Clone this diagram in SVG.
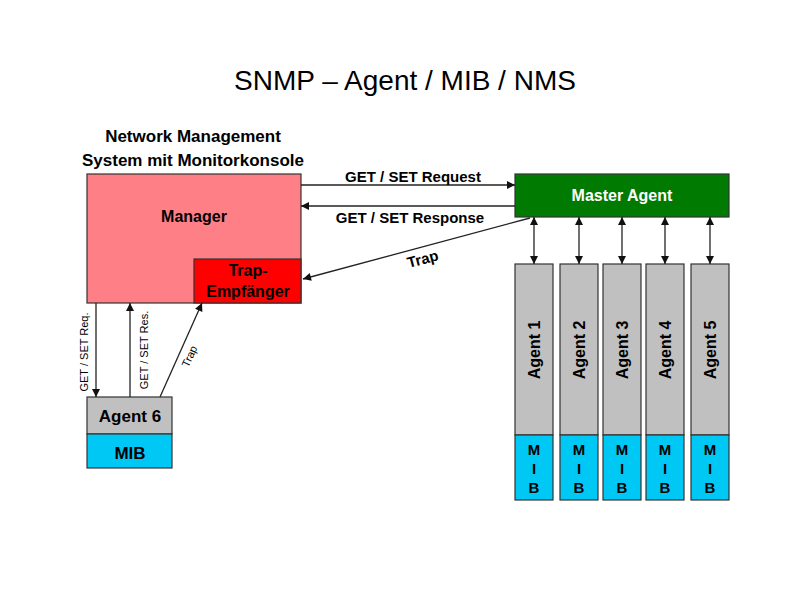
<svg xmlns="http://www.w3.org/2000/svg" width="800" height="600" viewBox="0 0 800 600">
<style>
text{font-family:"Liberation Sans",Arial,sans-serif;font-weight:bold;fill:#000}
.b{stroke:#333;stroke-width:1.2}
.l{stroke:#222;stroke-width:1.3;fill:none}
.s{font-weight:normal;font-size:11px}
.ag{font-size:16px}
.m{font-size:15px}
</style>
<defs>
<marker id="a" viewBox="0 0 10 10" refX="10" refY="5" markerWidth="10" markerHeight="8" markerUnits="userSpaceOnUse" orient="auto-start-reverse"><path d="M0,0L10,5L0,10z" fill="#111"/></marker>
</defs>
<rect width="800" height="600" fill="#fff"/>
<text x="405" y="90" text-anchor="middle" style="font-weight:normal;font-size:28px">SNMP – Agent / MIB / NMS</text>
<text x="193" y="142" text-anchor="middle" font-size="17">Network Management</text>
<text x="193" y="166" text-anchor="middle" font-size="17">System mit Monitorkonsole</text>
<g id="manager"><rect x="87" y="174" width="214" height="129" fill="#ff7f86" class="b"/><text x="194" y="222" text-anchor="middle" font-size="16">Manager</text></g>
<g id="trap-empfaenger"><rect x="194" y="259" width="107" height="44" fill="#f00" class="b"/><text x="248" y="276" text-anchor="middle" font-size="16">Trap-</text><text x="248" y="297" text-anchor="middle" font-size="16">Empfänger</text></g>
<g id="master"><rect x="515" y="174" width="214" height="43" fill="#007a00" class="b"/><text x="622" y="201" text-anchor="middle" font-size="16" style="fill:#fff">Master Agent</text></g>
<g id="agent1"><rect x="515" y="264" width="38" height="171" fill="#c0c0c0" class="b"/><rect x="515" y="435" width="38" height="65" fill="#00c8f5" class="b"/><text transform="translate(540,350) rotate(-90)" text-anchor="middle" class="ag">Agent 1</text><text x="534" y="455" text-anchor="middle" class="m">M</text><text x="534" y="474" text-anchor="middle" class="m">I</text><text x="534" y="493" text-anchor="middle" class="m">B</text></g>
<g id="agent2"><rect x="560" y="264" width="38" height="171" fill="#c0c0c0" class="b"/><rect x="560" y="435" width="38" height="65" fill="#00c8f5" class="b"/><text transform="translate(585,350) rotate(-90)" text-anchor="middle" class="ag">Agent 2</text><text x="579" y="455" text-anchor="middle" class="m">M</text><text x="579" y="474" text-anchor="middle" class="m">I</text><text x="579" y="493" text-anchor="middle" class="m">B</text></g>
<g id="agent3"><rect x="603" y="264" width="38" height="171" fill="#c0c0c0" class="b"/><rect x="603" y="435" width="38" height="65" fill="#00c8f5" class="b"/><text transform="translate(628,350) rotate(-90)" text-anchor="middle" class="ag">Agent 3</text><text x="622" y="455" text-anchor="middle" class="m">M</text><text x="622" y="474" text-anchor="middle" class="m">I</text><text x="622" y="493" text-anchor="middle" class="m">B</text></g>
<g id="agent4"><rect x="646" y="264" width="38" height="171" fill="#c0c0c0" class="b"/><rect x="646" y="435" width="38" height="65" fill="#00c8f5" class="b"/><text transform="translate(671,350) rotate(-90)" text-anchor="middle" class="ag">Agent 4</text><text x="665" y="455" text-anchor="middle" class="m">M</text><text x="665" y="474" text-anchor="middle" class="m">I</text><text x="665" y="493" text-anchor="middle" class="m">B</text></g>
<g id="agent5"><rect x="691" y="264" width="38" height="171" fill="#c0c0c0" class="b"/><rect x="691" y="435" width="38" height="65" fill="#00c8f5" class="b"/><text transform="translate(716,350) rotate(-90)" text-anchor="middle" class="ag">Agent 5</text><text x="710" y="455" text-anchor="middle" class="m">M</text><text x="710" y="474" text-anchor="middle" class="m">I</text><text x="710" y="493" text-anchor="middle" class="m">B</text></g>
<g id="agent6"><rect x="87" y="397" width="85" height="37" fill="#c0c0c0" class="b"/><rect x="87" y="434" width="85" height="34" fill="#00c8f5" class="b"/><text x="130" y="422" text-anchor="middle" font-size="17">Agent 6</text><text x="130" y="459" text-anchor="middle" font-size="17">MIB</text></g>
<g id="connectors">
<line x1="301" y1="185" x2="515" y2="185" class="l" marker-end="url(#a)"/>
<line x1="515" y1="206" x2="301" y2="206" class="l" marker-end="url(#a)"/>
<line x1="530" y1="218" x2="303" y2="279" class="l" marker-end="url(#a)"/>
<line x1="96" y1="303" x2="96" y2="397" class="l" marker-end="url(#a)"/>
<line x1="130" y1="397" x2="130" y2="303" class="l" marker-end="url(#a)"/>
<line x1="160" y1="397" x2="202" y2="303" class="l" marker-end="url(#a)"/>
<line x1="534" y1="217" x2="534" y2="264" class="l" marker-start="url(#a)" marker-end="url(#a)"/>
<line x1="579" y1="217" x2="579" y2="264" class="l" marker-start="url(#a)" marker-end="url(#a)"/>
<line x1="622" y1="217" x2="622" y2="264" class="l" marker-start="url(#a)" marker-end="url(#a)"/>
<line x1="665" y1="217" x2="665" y2="264" class="l" marker-start="url(#a)" marker-end="url(#a)"/>
<line x1="710" y1="217" x2="710" y2="264" class="l" marker-start="url(#a)" marker-end="url(#a)"/>
<text x="413" y="182" text-anchor="middle" font-size="15">GET / SET Request</text>
<text x="410" y="223" text-anchor="middle" font-size="15">GET / SET Response</text>
<text transform="translate(424,264) rotate(-15)" text-anchor="middle" font-size="15">Trap</text>
<text transform="translate(88,352) rotate(-90)" text-anchor="middle" class="s">GET / SET Req.</text>
<text transform="translate(148,350) rotate(-90)" text-anchor="middle" class="s">GET / SET Res.</text>
<text transform="translate(193,358) rotate(-65)" text-anchor="middle" class="s">Trap</text>
</g>
</svg>
